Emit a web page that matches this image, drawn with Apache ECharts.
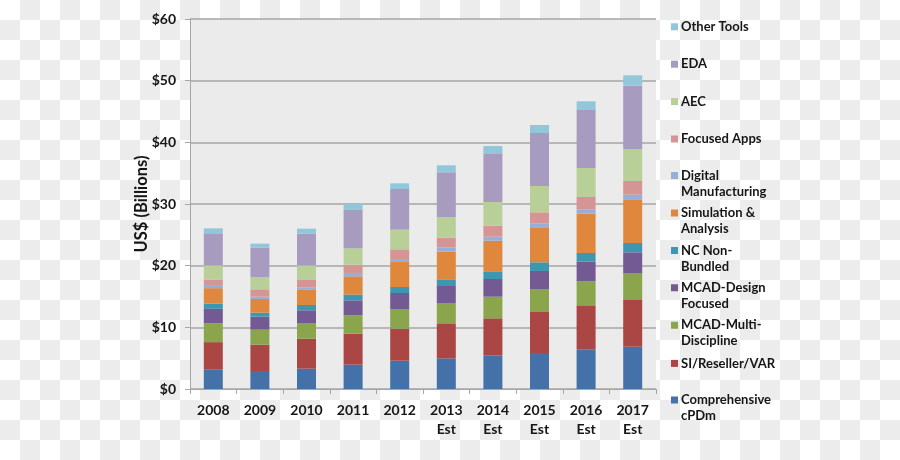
<!DOCTYPE html>
<html>
<head>
<meta charset="utf-8">
<script src="https://cdn.jsdelivr.net/npm/echarts@6/dist/echarts.min.js"></script>
<style>
html,body{margin:0;padding:0;}
body{width:900px;height:460px;background-color:#fff;
background-image:conic-gradient(#ececec 25%, #fff 0 50%, #ececec 0 75%, #fff 0);
background-size:40px 40px;}
#chart{width:900px;height:460px;}
</style>
</head>
<body>
<div id="chart"></div>
<script>
const categories = ['2008', '2009', '2010', '2011', '2012', '2013\nEst', '2014\nEst', '2015\nEst', '2016\nEst', '2017\nEst'];
const yTicks = [0, 10, 20, 30, 40, 50, 60];

// stacked bottom to top
const cPDm        = [3.20, 2.92, 3.30, 3.95, 4.59, 4.97, 5.41, 5.84, 6.38, 6.86];
const siReseller  = [4.40, 4.27, 4.86, 5.02, 5.19, 5.68, 6.05, 6.65, 7.19, 7.68];
const mcadMulti   = [3.05, 2.43, 2.54, 2.98, 3.19, 3.30, 3.51, 3.73, 3.89, 4.27];
const mcadDesign  = [2.35, 2.11, 2.06, 2.43, 2.60, 2.75, 2.87, 2.92, 3.19, 3.35];
const ncNon       = [0.85, 0.65, 0.86, 0.92, 0.97, 1.08, 1.24, 1.40, 1.40, 1.52];
const simulation  = [2.50, 2.22, 2.54, 2.97, 4.05, 4.49, 4.97, 5.68, 6.38, 7.08];
const digitalMfg  = [0.50, 0.37, 0.33, 0.54, 0.49, 0.65, 0.65, 0.59, 0.71, 0.75];
const focusedApps = [0.90, 1.19, 1.19, 1.35, 1.57, 1.62, 1.79, 1.84, 2.00, 2.22];
const aec         = [2.30, 2.00, 2.37, 2.65, 3.19, 3.35, 3.83, 4.27, 4.70, 5.19];
const eda         = [5.20, 4.74, 5.14, 6.22, 6.59, 7.25, 7.90, 8.59, 9.40, 10.27];
const otherTools  = [0.80, 0.67, 0.81, 0.97, 0.92, 1.13, 1.18, 1.30, 1.41, 1.67];

const seriesNames = ['Comprehensive\ncPDm', 'SI/Reseller/VAR', 'MCAD-Multi-\nDiscipline', 'MCAD-Design\nFocused', 'NC Non-\nBundled', 'Simulation &\nAnalysis', 'Digital\nManufacturing', 'Focused Apps', 'AEC', 'EDA', 'Other Tools'];
const seriesData = [cPDm, siReseller, mcadMulti, mcadDesign, ncNon, simulation, digitalMfg, focusedApps, aec, eda, otherTools];
const colors = ['#4472A8', '#AA4643', '#8AA54B', '#735A93', '#3D97B0', '#DF873D', '#96AEDA', '#D69595', '#B8CF97', '#A89BC0', '#92C6DA'];

const FONT = 'Lato';
const TEXT = '#161616';
const AXIS = '#a6a6a6';

const chart = echarts.init(document.getElementById('chart'), null, {renderer: 'canvas'});

const series = seriesNames.map((n, i) => ({
  name: n,
  type: 'bar',
  stack: 'total',
  barWidth: 19,
  data: seriesData[i],
  itemStyle: {color: colors[i]}
}));

// legend, top to bottom = reverse of stack order; marker aligned with first text line
const legendOrder = seriesNames.slice().reverse();
const legendTop0 = 26.8, legendStep = 37.4, lineH = 16, mk = 7;
const legends = legendOrder.map((n, k) => {
  const lines = n.split('\n').length;
  const yc = legendTop0 + k * legendStep;
  const h = mk + lineH * (lines - 1);
  // square at the top of a taller (invisible) icon box so it sits beside the first line
  const icon = lines > 1
    ? 'path://M0,0L' + mk + ',0L' + mk + ',' + mk + 'L0,' + mk + 'Z M0,' + (h - 0.01) + 'L0.01,' + (h - 0.01) + 'L0.01,' + h + 'L0,' + h + 'Z'
    : 'rect';
  return {
    data: [n],
    orient: 'vertical',
    left: 671,
    top: yc - lineH / 2 - (lines > 1 ? 0.8 : 0),
    padding: 0,
    itemWidth: mk,
    itemHeight: h,
    itemGap: 0,
    icon: icon,
    selectedMode: false,
    textStyle: {
      fontFamily: FONT, fontWeight: 'bold', fontSize: 13, color: TEXT,
      lineHeight: lineH,
      padding: [0, 0, 0, -2]
    }
  };
});

chart.setOption({
  backgroundColor: 'transparent',
  animation: false,
  color: colors,
  grid: {left: 190, right: 244, top: 19, bottom: 71, show: true, backgroundColor: '#ebebeb', borderWidth: 0},
  legend: legends,
  xAxis: {
    type: 'category',
    data: categories,
    axisLine: {show: true, lineStyle: {color: AXIS, width: 1}},
    axisTick: {show: true, length: 5, lineStyle: {color: AXIS}},
    axisLabel: {fontFamily: FONT, fontWeight: 'bold', fontSize: 14, color: TEXT, margin: 12, lineHeight: 19, interval: 0}
  },
  yAxis: {
    type: 'value',
    min: yTicks[0],
    max: yTicks[yTicks.length - 1],
    interval: 10,
    name: 'US$ (Billions)',
    nameLocation: 'middle',
    nameGap: 40,
    nameMoveOverlap: false,
    nameTextStyle: {fontFamily: FONT, fontWeight: 'bold', fontSize: 16.5, color: TEXT},
    axisLine: {show: true, lineStyle: {color: AXIS, width: 1}},
    axisTick: {show: true, length: 5, lineStyle: {color: AXIS}},
    splitLine: {show: true, lineStyle: {color: AXIS, width: 1.5}},
    axisLabel: {fontFamily: FONT, fontWeight: 'bold', fontSize: 14, color: TEXT, margin: 14, formatter: v => '$' + v}
  },
  series: series
});
</script>
</body>
</html>
